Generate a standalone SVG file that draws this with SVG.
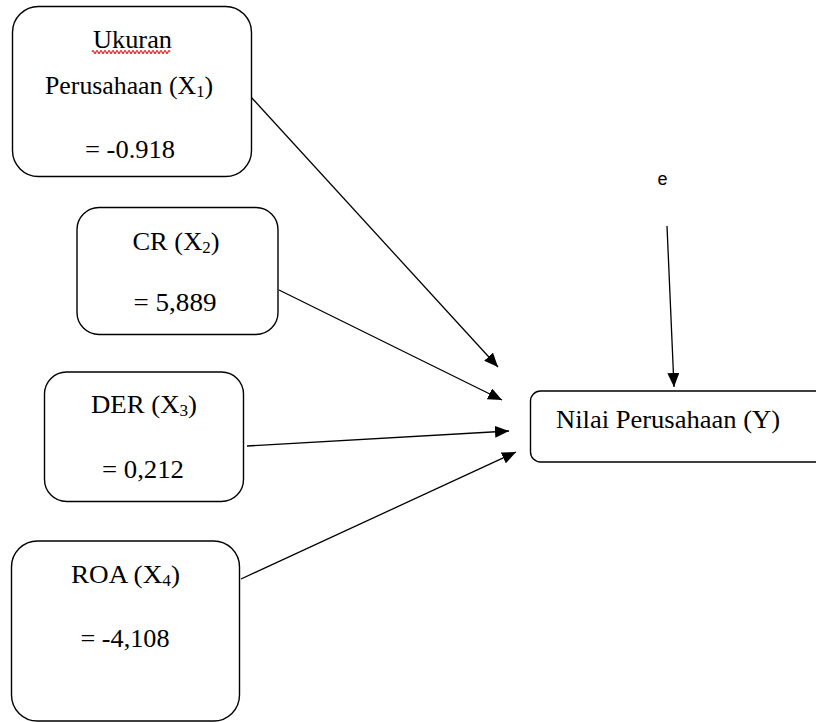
<svg xmlns="http://www.w3.org/2000/svg" width="816" height="722" viewBox="0 0 816 722">
<style>
.box{fill:#fff;stroke:#000;stroke-width:1.4}
.t{font-family:"Liberation Serif","Times New Roman",serif;font-size:25px;fill:#000}
.c{stroke:#000;stroke-width:1.3;fill:none;marker-end:url(#ah)}
</style>
<defs>
<marker id="ah" viewBox="0 0 14 12" refX="14" refY="6" markerWidth="14" markerHeight="12" markerUnits="userSpaceOnUse" orient="auto">
<path d="M0,0 L14,6 L0,12 z" fill="#000"/>
</marker>
</defs>
<rect width="816" height="722" fill="#fff"/>
<g id="connectors">
<line class="c" x1="251" y1="97" x2="498" y2="367"/>
<line class="c" x1="279" y1="290" x2="502" y2="400"/>
<line class="c" x1="247" y1="446" x2="509" y2="431"/>
<line class="c" x1="241" y1="579" x2="516" y2="452"/>
<line class="c" x1="667" y1="226" x2="674" y2="387"/>
</g>
<g id="x1">
<rect class="box" x="12.5" y="6.5" width="239" height="170" rx="26"/>
<text class="t" x="132.5" y="47.5" text-anchor="middle" textLength="79" lengthAdjust="spacingAndGlyphs">Ukuran</text>
<path d="M92,52 q1,-3 2,0 t2,0 t2,0 t2,0 t2,0 t2,0 t2,0 t2,0 t2,0 t2,0 t2,0 t2,0 t2,0 t2,0 t2,0 t2,0 t2,0 t2,0 t2,0 t2,0 t2,0 t2,0 t2,0 t2,0 t2,0 t2,0 t2,0 t2,0 t2,0 t2,0 t2,0 t2,0 t2,0 t2,0 t2,0 t2,0 t2,0 t2,0 t2,0" fill="none" stroke="#e02020" stroke-width="1.2"/>
<text class="t" x="129" y="94" text-anchor="middle" textLength="168" lengthAdjust="spacingAndGlyphs">Perusahaan (X<tspan font-size="16" dy="3">1</tspan><tspan dy="-3">)</tspan></text>
<text class="t" x="130" y="157.5" text-anchor="middle" textLength="90" lengthAdjust="spacingAndGlyphs">= -0.918</text>
</g>
<g id="x2">
<rect class="box" x="77" y="207.5" width="201" height="127" rx="22"/>
<text class="t" x="176" y="250" text-anchor="middle" textLength="87" lengthAdjust="spacingAndGlyphs">CR (X<tspan font-size="16" dy="3">2</tspan><tspan dy="-3">)</tspan></text>
<text class="t" x="175" y="311" text-anchor="middle" textLength="83" lengthAdjust="spacingAndGlyphs">= 5,889</text>
</g>
<g id="x3">
<rect class="box" x="44.5" y="372" width="199" height="129.5" rx="22"/>
<text class="t" x="144" y="413" text-anchor="middle" textLength="106" lengthAdjust="spacingAndGlyphs">DER (X<tspan font-size="16" dy="3">3</tspan><tspan dy="-3">)</tspan></text>
<text class="t" x="143" y="478" text-anchor="middle" textLength="82" lengthAdjust="spacingAndGlyphs">= 0,212</text>
</g>
<g id="x4">
<rect class="box" x="11.5" y="541" width="228" height="180" rx="26"/>
<text class="t" x="125.5" y="583" text-anchor="middle" textLength="109" lengthAdjust="spacingAndGlyphs">ROA (X<tspan font-size="16" dy="3">4</tspan><tspan dy="-3">)</tspan></text>
<text class="t" x="125" y="647" text-anchor="middle" textLength="89" lengthAdjust="spacingAndGlyphs">= -4,108</text>
</g>
<g id="y">
<rect class="box" x="530.5" y="391" width="300" height="71" rx="10"/>
<text class="t" x="556" y="428" textLength="224" lengthAdjust="spacingAndGlyphs">Nilai Perusahaan (Y)</text>
</g>
<g id="e">
<text x="657.5" y="185" font-family="Liberation Sans, Arial, sans-serif" font-size="18" fill="#000">e</text>
</g>
</svg>
